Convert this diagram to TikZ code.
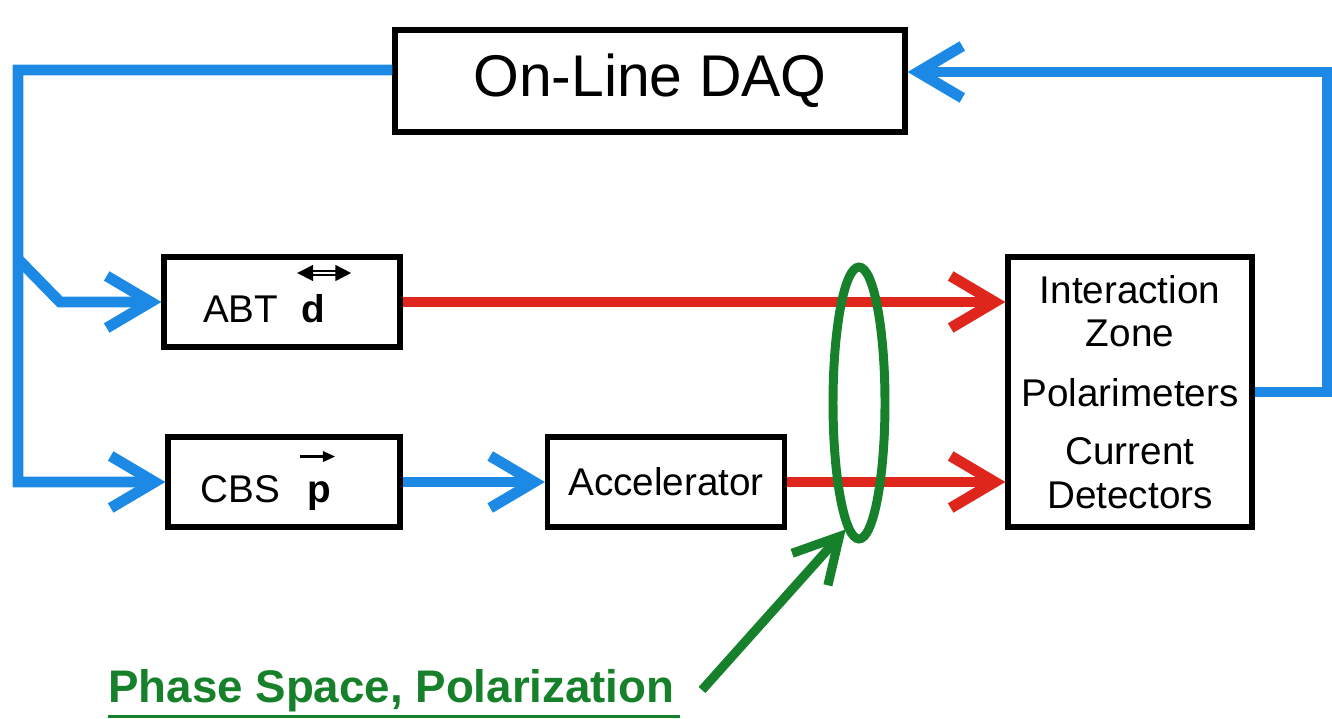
\documentclass[tikz,border=0pt]{standalone}
\usepackage{amsmath}
\usepackage{fontspec}
\setmainfont{Liberation Sans}
\usetikzlibrary{arrows.meta,positioning,shapes.geometric}

\definecolor{fbblue}{RGB}{28,138,228}
\definecolor{beamred}{RGB}{222,38,28}
\definecolor{psgreen}{RGB}{22,128,42}

% letter with a polarization arrow over it: arrow, letter, left offset, raise
\newcommand{\polover}[4]{\rlap{\hspace{#3}\raisebox{#4}[0pt][0pt]{#1}}\textbf{#2}\hspace{0.72cm}}
\newcommand{\tensarrow}{\tikz[baseline=0pt]\draw[line width=0.9pt, double distance=1.6pt, {Triangle[length=9pt,width=9pt]}-{Triangle[length=9pt,width=9pt]}] (0,0) -- (1.08cm,0);}
\newcommand{\vecarrow}{\tikz[baseline=0pt]\draw[line width=1.3pt, -{Triangle[length=7pt,width=6pt]}] (0,0) -- (0.7cm,0);}

\begin{document}
\begin{tikzpicture}[x=0.02cm, y=-0.02cm,
  box/.style={rectangle, draw=black, line width=3pt, align=center,
              font=\fontsize{22}{25}\selectfont, inner sep=2pt},
  polbox/.style={box, text height=23pt, text depth=0pt},
  bflow/.style={-{Straight Barb[length=0.88cm, width=1.04cm]}, draw=fbblue, line width=6.2pt, line join=miter},
  rflow/.style={bflow, draw=beamred},
  gflow/.style={-{Straight Barb[length=0.88cm, width=0.96cm]}, draw=psgreen, line width=5.2pt}
]
\useasboundingbox (0,0) rectangle (1332,719);
\node[box, minimum width=10.2cm, minimum height=2.04cm, font=\fontsize{33.5}{40}\selectfont] (daq) at (650,81) {On-Line DAQ};
\node[polbox, minimum width=4.72cm, minimum height=1.8cm] (abt) at (282,302) {ABT\hspace{13pt}\polover{\tensarrow}{d}{-0.14cm}{28pt}};
\node[polbox, minimum width=4.64cm, minimum height=1.8cm] (cbs) at (284,482) {CBS\hspace{16pt}\polover{\vecarrow}{p}{-0.18cm}{26pt}};
\node[box, minimum width=4.74cm, minimum height=1.8cm] (acc) at (666,482) {Accelerator};
\node[box, minimum width=4.88cm, minimum height=5.4cm] (det) at (1130,392) {Interaction\\Zone\\[9pt]Polarimeters\\[8pt]Current\\Detectors};
\node[anchor=base west, inner sep=0pt, text=psgreen, font=\fontsize{26}{30}\selectfont\bfseries] (pslabel) at (108,702) {Phase Space, Polarization};
\coordinate (corner) at (18,70);
\coordinate (fork) at (18,259);
\coordinate (ptail) at (702,690);
% feedback loop
\draw[bflow] ([yshift=0.22cm]daq.west) -- (corner) |- (cbs.west);
\draw[bflow] (fork) -- ++(42,43) -- (abt.west);
\draw[bflow] (cbs.east) -- (acc.west);
\draw[bflow] (det.east) -- ++(73,0) |- ([yshift=0.18cm]daq.east);
% beams
\draw[rflow] (abt.east) -- (abt.east -| det.west);
\draw[rflow] (acc.east) -- (acc.east -| det.west);
\node[ellipse, draw=psgreen, line width=5.1pt, minimum width=1.04cm, minimum height=5.44cm, inner sep=0pt] (ring) at (859,403) {};
\draw[gflow] (ptail) -- (ring.264);
\draw[psgreen, line width=1.7pt] ([yshift=-0.29cm]pslabel.base west) -- ([yshift=-0.29cm, xshift=0.1cm]pslabel.base east);
\end{tikzpicture}
\end{document}
